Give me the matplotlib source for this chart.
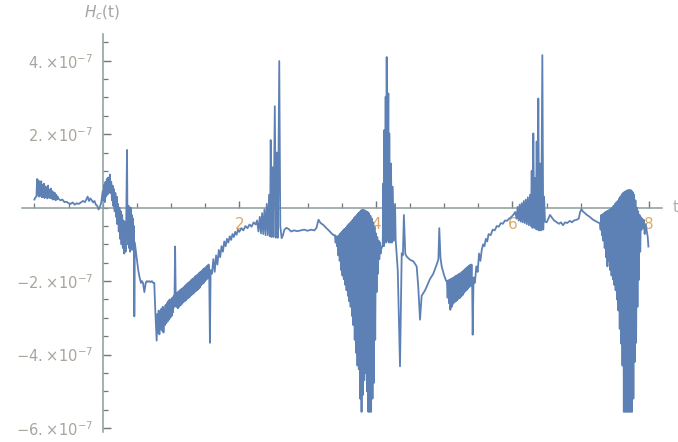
import numpy as np
import matplotlib
matplotlib.use('Agg')
import matplotlib.pyplot as plt
from matplotlib.ticker import FixedLocator

# H_c(t) samples as (t, value in units of 1e-7), one list per stretch of t
seg_pre = [(-1.000, 0.22), (-0.985, 0.28), (-0.970, 0.30), (-0.960, 0.78), (-0.950, 0.35),
           (-0.940, 0.74), (-0.930, 0.30), (-0.920, 0.70), (-0.910, 0.32), (-0.900, 0.72),
           (-0.890, 0.28), (-0.880, 0.62), (-0.870, 0.30), (-0.860, 0.65), (-0.850, 0.26),
           (-0.840, 0.58), (-0.830, 0.30), (-0.820, 0.55), (-0.810, 0.25), (-0.800, 0.60),
           (-0.790, 0.28), (-0.780, 0.48), (-0.770, 0.26), (-0.760, 0.52), (-0.750, 0.25),
           (-0.740, 0.45), (-0.730, 0.22), (-0.720, 0.42), (-0.710, 0.24), (-0.700, 0.40),
           (-0.690, 0.20), (-0.680, 0.35), (-0.670, 0.22), (-0.660, 0.30), (-0.650, 0.25),
           (-0.620, 0.20), (-0.590, 0.22), (-0.560, 0.15), (-0.530, 0.16), (-0.500, 0.12),
           (-0.470, 0.10), (-0.440, 0.14), (-0.410, 0.08), (-0.380, 0.12), (-0.350, 0.10),
           (-0.320, 0.14), (-0.290, 0.18), (-0.260, 0.15), (-0.240, 0.22), (-0.220, 0.30),
           (-0.200, 0.18), (-0.180, 0.25), (-0.160, 0.20), (-0.140, 0.14), (-0.120, 0.18),
           (-0.100, 0.08), (-0.080, 0.05), (-0.060, -0.05), (-0.040, 0.02), (-0.020, 0.15)]

seg_start = [(0.000, 0.45), (0.010, 0.20), (0.020, 0.62), (0.030, 0.15), (0.040, 0.70),
             (0.050, 0.30), (0.060, 0.78), (0.070, 0.35), (0.080, 0.82), (0.090, 0.40),
             (0.100, 0.75), (0.107, 0.90), (0.115, 0.40), (0.125, 0.70), (0.135, 0.20),
             (0.145, 0.60), (0.155, 0.05), (0.165, 0.50), (0.175, -0.10), (0.185, 0.40),
             (0.195, -0.25), (0.205, 0.30), (0.215, -0.45), (0.225, 0.10), (0.235, -0.65),
             (0.245, 0.00), (0.255, -0.85), (0.265, -0.10), (0.275, -1.00), (0.285, -0.20),
             (0.295, -1.10), (0.305, -0.35), (0.315, -1.25), (0.325, -0.40), (0.335, -1.20),
             (0.345, -0.30), (0.356, 1.57), (0.362, -0.20), (0.370, -1.00), (0.378, 0.05),
             (0.386, -1.10), (0.394, -0.10), (0.402, -1.20), (0.410, 0.00), (0.418, -1.05),
             (0.426, -0.20), (0.434, -1.15), (0.442, -0.30), (0.450, -1.00), (0.458, -0.50),
             (0.463, -2.96), (0.470, -0.95), (0.480, -1.10), (0.500, -1.40), (0.520, -1.70),
             (0.540, -1.90), (0.560, -2.05), (0.575, -2.00), (0.590, -2.05), (0.610, -2.30),
             (0.630, -2.05), (0.645, -2.00), (0.660, -2.02), (0.680, -2.00), (0.700, -2.03),
             (0.720, -2.00), (0.740, -2.05), (0.755, -2.05)]

seg_trough1 = [(0.770, -2.80), (0.790, -3.62), (0.800, -2.90), (0.810, -3.40), (0.820, -2.80),
               (0.830, -3.45), (0.840, -2.85), (0.850, -3.30), (0.860, -2.75), (0.870, -3.35),
               (0.880, -2.70), (0.890, -3.40), (0.900, -2.75), (0.910, -3.20), (0.920, -2.65),
               (0.930, -3.15), (0.940, -2.60), (0.950, -3.10), (0.960, -2.55), (0.970, -3.05),
               (0.980, -2.50), (0.990, -3.00), (1.000, -2.50), (1.010, -2.95), (1.020, -2.45),
               (1.030, -2.85), (1.040, -2.40), (1.050, -2.70), (1.060, -1.06), (1.070, -2.55),
               (1.080, -2.70), (1.090, -2.32), (1.100, -2.74), (1.110, -2.28), (1.120, -2.70),
               (1.130, -2.25), (1.140, -2.66), (1.150, -2.22), (1.160, -2.62), (1.170, -2.19),
               (1.180, -2.58), (1.190, -2.16), (1.200, -2.55), (1.210, -2.12), (1.220, -2.52),
               (1.230, -2.08), (1.240, -2.48), (1.250, -2.05), (1.260, -2.45), (1.270, -2.02),
               (1.280, -2.42), (1.290, -1.98), (1.300, -2.38), (1.310, -1.95), (1.320, -2.35),
               (1.330, -1.92), (1.340, -2.32), (1.350, -1.88), (1.360, -2.28), (1.370, -1.85),
               (1.380, -2.25), (1.390, -1.82), (1.400, -2.22), (1.410, -1.78), (1.420, -2.18),
               (1.430, -1.75), (1.440, -2.12), (1.450, -1.72), (1.460, -2.08), (1.470, -1.68),
               (1.480, -2.05), (1.490, -1.65), (1.500, -2.00), (1.510, -1.62), (1.520, -1.96),
               (1.530, -1.58), (1.540, -1.92), (1.550, -1.55), (1.560, -1.85), (1.570, -3.68),
               (1.580, -1.70)]

seg_peak1 = [(1.600, -1.80), (1.620, -1.40), (1.640, -1.75), (1.660, -1.30), (1.680, -1.55),
             (1.700, -1.15), (1.720, -1.35), (1.740, -1.05), (1.760, -1.20), (1.780, -0.92),
             (1.800, -1.05), (1.820, -0.85), (1.840, -0.95), (1.860, -0.78), (1.880, -0.88),
             (1.900, -0.72), (1.920, -0.80), (1.940, -0.66), (1.960, -0.74), (1.980, -0.60),
             (2.000, -0.66), (2.030, -0.56), (2.060, -0.62), (2.090, -0.50), (2.120, -0.56),
             (2.150, -0.46), (2.180, -0.52), (2.210, -0.40), (2.240, -0.46), (2.260, -0.35),
             (2.280, -0.65), (2.300, -0.25), (2.317, -0.70), (2.334, -0.15), (2.351, -0.72),
             (2.368, -0.05), (2.385, -0.75), (2.402, 0.10), (2.419, -0.75), (2.436, 0.35),
             (2.450, -0.78), (2.460, 1.84), (2.470, -0.80), (2.485, 1.10), (2.500, -0.80),
             (2.520, 2.76), (2.535, -0.82), (2.550, 1.50), (2.565, -0.82), (2.585, 3.99),
             (2.600, -0.50), (2.620, -0.83)]

seg_flat1 = [(2.640, -0.75), (2.660, -0.60), (2.690, -0.55), (2.720, -0.58), (2.760, -0.65),
             (2.800, -0.62), (2.850, -0.64), (2.900, -0.62), (2.950, -0.60), (3.000, -0.63),
             (3.050, -0.60), (3.100, -0.62), (3.130, -0.55), (3.160, -0.33), (3.190, -0.42),
             (3.230, -0.47), (3.270, -0.55), (3.310, -0.62), (3.350, -0.70), (3.380, -0.75)]

seg_trough2 = [(3.400, -0.75), (3.410, -0.95), (3.420, -0.78), (3.430, -1.05), (3.440, -0.78),
               (3.450, -1.30), (3.460, -0.75), (3.470, -1.45), (3.480, -0.70), (3.490, -1.70),
               (3.500, -0.66), (3.510, -1.85), (3.520, -0.62), (3.530, -1.95), (3.540, -0.58),
               (3.550, -2.10), (3.560, -0.55), (3.570, -2.25), (3.580, -0.50), (3.590, -2.40),
               (3.600, -0.45), (3.610, -2.55), (3.620, -0.42), (3.630, -2.70), (3.640, -0.38),
               (3.650, -2.95), (3.660, -0.33), (3.670, -3.20), (3.680, -0.28), (3.690, -3.60),
               (3.700, -0.24), (3.710, -3.95), (3.720, -0.20), (3.730, -4.30), (3.740, -0.16),
               (3.750, -4.40), (3.760, -0.12), (3.770, -5.20), (3.780, -0.08), (3.790, -5.56),
               (3.800, -0.06), (3.810, -5.10), (3.820, -0.06), (3.830, -4.70), (3.840, -0.08),
               (3.850, -4.50), (3.860, -0.10), (3.870, -5.00), (3.880, -0.12), (3.890, -5.56),
               (3.900, -0.16), (3.910, -5.56), (3.920, -0.22), (3.930, -5.56), (3.940, -0.30),
               (3.950, -5.20), (3.960, -0.40), (3.970, -4.77), (3.980, -0.52), (3.990, -3.60),
               (4.000, -0.70), (4.010, -2.30), (4.020, -0.80), (4.030, -1.80), (4.040, -0.90),
               (4.050, -1.40), (4.060, -0.95), (4.070, -1.25), (4.078, -1.10)]

seg_peak2 = [(4.085, -1.10), (4.100, -1.00), (4.109, 0.66), (4.116, -1.05), (4.123, 2.11),
             (4.133, -0.95), (4.143, 3.02), (4.150, -0.95), (4.158, 4.10), (4.170, -0.90),
             (4.182, 3.11), (4.189, -0.95), (4.196, 2.02), (4.208, -0.95), (4.221, 1.20),
             (4.233, -0.95), (4.246, 0.57), (4.262, -0.90), (4.280, 0.10)]

seg_dip = [(4.290, -0.90), (4.320, -1.70), (4.353, -4.32), (4.378, -1.24), (4.395, -1.30),
           (4.410, -0.20), (4.430, -1.25), (4.450, -1.33), (4.500, -1.42), (4.548, -1.46),
           (4.597, -1.60), (4.620, -2.15), (4.646, -3.05), (4.670, -2.40), (4.694, -2.33),
           (4.720, -2.25), (4.744, -2.15), (4.790, -1.95), (4.840, -1.80), (4.870, -1.65),
           (4.900, -1.50), (4.915, -1.40), (4.928, -0.56), (4.945, -1.35), (4.963, -1.60),
           (5.000, -1.85), (5.030, -2.00)]

seg_rise = [(5.040, -2.00), (5.050, -2.45), (5.060, -1.98), (5.070, -2.60), (5.080, -1.96),
            (5.090, -2.78), (5.100, -1.94), (5.110, -2.70), (5.120, -1.92), (5.130, -2.62),
            (5.140, -1.90), (5.150, -2.58), (5.160, -1.87), (5.170, -2.55), (5.180, -1.85),
            (5.190, -2.52), (5.200, -1.83), (5.210, -2.48), (5.220, -1.80), (5.230, -2.46),
            (5.240, -1.78), (5.250, -2.42), (5.260, -1.75), (5.270, -2.38), (5.280, -1.72),
            (5.290, -2.32), (5.300, -1.68), (5.310, -2.28), (5.320, -1.65), (5.330, -2.24),
            (5.340, -1.62), (5.350, -2.20), (5.360, -1.58), (5.370, -2.16), (5.380, -1.56),
            (5.390, -2.12), (5.400, -1.55), (5.410, -2.20), (5.417, -3.46), (5.430, -1.90),
            (5.450, -2.05), (5.470, -1.60), (5.490, -1.75), (5.510, -1.25), (5.530, -1.45),
            (5.550, -1.15), (5.570, -1.00), (5.590, -1.05), (5.610, -0.85), (5.630, -0.92),
            (5.650, -0.72), (5.680, -0.75), (5.710, -0.60), (5.740, -0.62), (5.770, -0.50),
            (5.800, -0.52), (5.830, -0.42), (5.860, -0.44), (5.890, -0.35), (5.920, -0.36),
            (5.950, -0.30), (5.980, -0.26), (6.010, -0.20), (6.040, -0.12)]

seg_peak3 = [(6.060, -0.30), (6.075, 0.02), (6.090, -0.35), (6.105, 0.08), (6.120, -0.38),
             (6.135, 0.12), (6.150, -0.40), (6.165, 0.18), (6.180, -0.42), (6.195, 0.22),
             (6.210, -0.45), (6.225, 0.28), (6.240, -0.48), (6.256, 0.35), (6.270, -0.50),
             (6.281, 1.00), (6.293, -0.55), (6.305, 2.02), (6.318, -0.55), (6.330, 0.80),
             (6.342, -0.58), (6.354, 1.80), (6.366, -0.60), (6.378, 2.97), (6.390, -0.62),
             (6.403, 1.20), (6.420, -0.62), (6.437, 4.15), (6.450, -0.60), (6.462, 0.30),
             (6.476, -0.38)]

seg_flat2 = [(6.500, -0.40), (6.530, -0.28), (6.550, -0.20), (6.580, -0.28), (6.610, -0.35),
             (6.650, -0.40), (6.680, -0.44), (6.710, -0.40), (6.740, -0.48), (6.770, -0.40),
             (6.800, -0.42), (6.840, -0.36), (6.870, -0.40), (6.900, -0.35), (6.940, -0.33),
             (6.970, -0.30), (6.990, -0.12), (7.010, -0.04), (7.030, -0.10), (7.060, -0.15),
             (7.090, -0.20), (7.130, -0.25), (7.180, -0.33), (7.230, -0.38), (7.270, -0.42)]

seg_end = [(7.280, -0.42), (7.290, -0.60), (7.300, -0.20), (7.310, -0.75), (7.320, -0.18),
           (7.330, -0.90), (7.340, -0.15), (7.350, -1.10), (7.360, -0.12), (7.370, -1.35),
           (7.380, -0.10), (7.390, -1.60), (7.400, -0.08), (7.410, -1.45), (7.420, -0.06),
           (7.430, -1.70), (7.440, -0.03), (7.450, -1.85), (7.460, 0.00), (7.470, -1.95),
           (7.480, 0.05), (7.490, -2.10), (7.500, 0.10), (7.510, -2.25), (7.520, 0.14),
           (7.530, -2.50), (7.540, 0.18), (7.550, -2.80), (7.560, 0.24), (7.570, -3.30),
           (7.580, 0.30), (7.590, -3.70), (7.600, 0.36), (7.610, -4.30), (7.620, 0.40),
           (7.630, -5.56), (7.640, 0.43), (7.650, -5.56), (7.660, 0.45), (7.670, -5.56),
           (7.680, 0.47), (7.690, -5.56), (7.700, 0.48), (7.710, -5.56), (7.720, 0.48),
           (7.730, -5.56), (7.740, 0.47), (7.750, -5.56), (7.760, 0.42), (7.770, -5.20),
           (7.780, 0.35), (7.790, -4.20), (7.800, 0.20), (7.810, -3.68), (7.820, 0.00),
           (7.830, -2.70), (7.840, -0.10), (7.850, -1.97), (7.860, -0.20), (7.870, -1.20),
           (7.880, -0.26), (7.890, -0.60), (7.900, -0.30), (7.910, -0.55), (7.920, -0.33),
           (7.935, -0.72), (7.950, -0.45), (7.965, -0.62), (7.980, -0.80), (7.990, -1.06)]

x_ticks = [2, 4, 6, 8]
x_tick_labels = ['2', '4', '6', '8']
y_ticks = [4e-7, 2e-7, -2e-7, -4e-7, -6e-7]
y_tick_labels = [r'$4.\!\times\!10^{-7}$', r'$2.\!\times\!10^{-7}$',
                 r'$-2.\!\times\!10^{-7}$', r'$-4.\!\times\!10^{-7}$',
                 r'$-6.\!\times\!10^{-7}$']

segments = [seg_pre, seg_start, seg_trough1, seg_peak1, seg_flat1, seg_trough2,
            seg_peak2, seg_dip, seg_rise, seg_peak3, seg_flat2, seg_end]
pts = np.array([p for seg in segments for p in seg])
t = pts[:, 0]
hc = pts[:, 1] * 1e-7

plt.rcParams['mathtext.fontset'] = 'dejavusans'

axis_col = '#8d9b9b'
tick_col = '#6f7a7a'
ylab_col = '#a9a49c'
xlab_col = '#dcaa68'

fig = plt.figure(figsize=(6.78, 4.42), dpi=100)
ax = fig.add_axes([0.032, 0.0233, 0.944, 0.9009])
ax.plot(t, hc, color='#5e81b5', lw=1.3, zorder=3)

ax.set_xlim(-1.186, 8.185)
ax.set_ylim(-6.1e-7, 4.74e-7)

for side in ['top', 'right']:
    ax.spines[side].set_visible(False)
ax.spines['left'].set_position(('data', 0))
ax.spines['bottom'].set_position(('data', 0))
for side in ['left', 'bottom']:
    ax.spines[side].set_color(axis_col)
    ax.spines[side].set_linewidth(1.1)
    ax.spines[side].set_zorder(2)

ax.set_xticks(x_ticks)
ax.set_xticklabels(x_tick_labels)
ax.xaxis.set_minor_locator(FixedLocator(np.arange(-1, 8.01, 0.5)))
ax.set_yticks(y_ticks)
ax.set_yticklabels(y_tick_labels)
ax.yaxis.set_minor_locator(FixedLocator(np.arange(-6, 4.51, 0.5) * 1e-7))

ax.tick_params(axis='both', which='major', direction='in', length=5.4, width=1.0,
               color=tick_col)
ax.tick_params(axis='both', which='minor', direction='in', length=3.4, width=0.9,
               color=tick_col)
ax.tick_params(axis='x', which='major', labelsize=11, labelcolor=xlab_col, pad=7)
ax.tick_params(axis='y', which='major', labelsize=10.5, labelcolor=ylab_col, pad=7)

fig.text(0.150, 0.970, r'$H_{c}\mathrm{(t)}$', ha='center', va='center',
         fontsize=11, color='#a4a4a4')
fig.text(0.992, 0.530, 't', ha='left', va='center', fontsize=11, color='#b0b0b0')

fig.savefig('out.png', dpi=100)
